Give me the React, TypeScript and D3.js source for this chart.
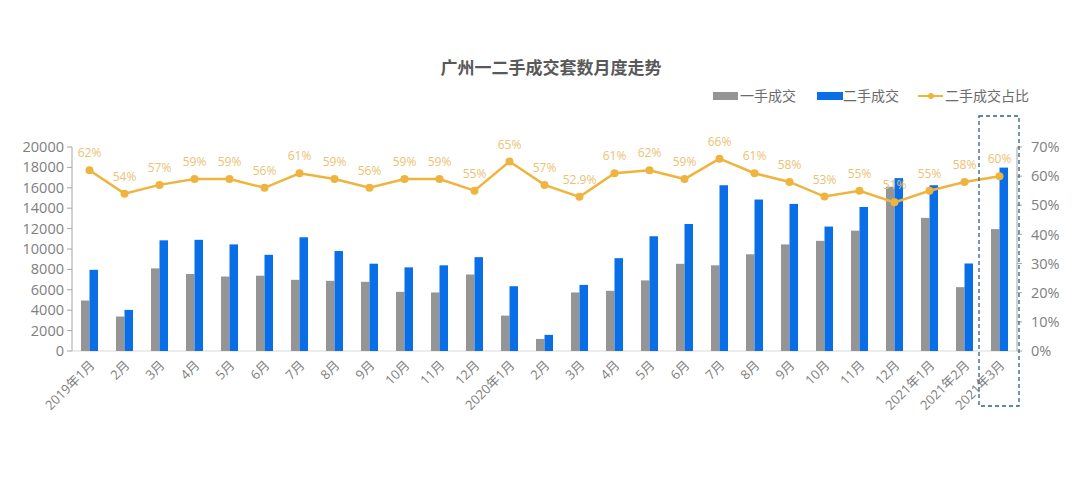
import React from "react";
import * as d3 from "d3";

const categories = [
  "2019年1月", "2月", "3月", "4月", "5月", "6月", "7月", "8月", "9月", "10月", "11月", "12月",
  "2020年1月", "2月", "3月", "4月", "5月", "6月", "7月", "8月", "9月", "10月", "11月", "12月",
  "2021年1月", "2021年2月", "2021年3月",
];
const firstHand = [
  4950, 3380, 8100, 7550, 7300, 7380, 6980, 6880, 6780, 5800, 5740, 7500,
  3470, 1180, 5740, 5900, 6920, 8550, 8400, 9480, 10450, 10800, 11800, 16100,
  13050, 6260, 11950,
];
const secondHand = [
  7960, 4030, 10850, 10900, 10450, 9430, 11150, 9800, 8560, 8200, 8400, 9200,
  6350, 1580, 6480, 9100, 11250, 12450, 16250, 14850, 14420, 12200, 14120, 16950,
  16250, 8580, 17980,
];
const secondShare = [
  62, 54, 57, 59, 59, 56, 61, 59, 56, 59, 59, 55,
  65, 57, 52.9, 61, 62, 59, 66, 61, 58, 53, 55, 51,
  55, 58, 60,
];
const leftTicks = [0, 2000, 4000, 6000, 8000, 10000, 12000, 14000, 16000, 18000, 20000];
const rightTicks = [0, 10, 20, 30, 40, 50, 60, 70];
const seriesNames = ["一手成交", "二手成交", "二手成交占比"];
const title = "广州一二手成交套数月度走势";

const W = 1080;
const H = 487;
const left = 72;
const right = 1017;
const top = 147;
const bottom = 351;

const GRAY = "#959595";
const BLUE = "#0A6FE6";
const GOLD = "#EFB43E";
const GOLD_LABEL = "#EBC273";
const AXIS_TEXT = "#808080";
const FONT = "'Open Sans', 'Noto Sans CJK SC', sans-serif";

export default function App() {
  const x = d3.scaleBand<number>().domain(categories.map((_, i) => i)).range([left, right]).padding(0);
  const yL = d3.scaleLinear().domain([0, 20000]).range([bottom, top]);
  const yR = d3.scaleLinear().domain([0, 70]).range([bottom, top]);
  const bw = 8.5;
  const cx = (i: number) => (x(i) as number) + x.bandwidth() / 2;

  const line = d3
    .line<number>()
    .x((_, i) => cx(i))
    .y((d) => yR(d));

  const fmt = (v: number) => (Number.isInteger(v) ? `${v}%` : `${v.toFixed(1)}%`);

  const last = categories.length - 1;
  const boxX0 = (x(last) as number) - 3;
  const boxX1 = right + 2;

  return (
    <svg
      width={W}
      height={H}
      style={{ position: "absolute", left: 0, top: 0, background: "#fff" }}
      fontFamily={FONT}
    >
      <rect x={0} y={0} width={W} height={H} fill="#fff" />
      {/* title */}
      <text x={551} y={74} textAnchor="middle" fontSize={17} fontWeight="bold" fill="#595959">
        {title}
      </text>

      {/* legend */}
      <g fontSize={14} fill="#6b6b6b">
        <rect x={713} y={92} width={25} height={8} fill={GRAY} />
        <text x={740} y={101}>{seriesNames[0]}</text>
        <rect x={817} y={92} width={26} height={8} fill={BLUE} />
        <text x={843} y={101}>{seriesNames[1]}</text>
        <line x1={918} x2={943} y1={96} y2={96} stroke={GOLD} strokeWidth={2} />
        <circle cx={931} cy={96} r={3} fill={GOLD} />
        <text x={945} y={101}>{seriesNames[2]}</text>
      </g>

      {/* baseline */}
      <line x1={left} x2={right} y1={bottom} y2={bottom} stroke="#d9d9d9" strokeWidth={1} />

      {/* left axis */}
      <line x1={left} x2={left} y1={top} y2={bottom} stroke="#a6a6a6" strokeWidth={1} />
      {leftTicks.map((t) => (
        <g key={"l" + t}>
          <line x1={left - 5} x2={left} y1={yL(t)} y2={yL(t)} stroke="#a6a6a6" />
          <text x={left - 8} y={yL(t)} dy="0.35em" textAnchor="end" fontSize={14.5} fill={AXIS_TEXT}>
            {t}
          </text>
        </g>
      ))}

      {/* right axis */}
      <line x1={right} x2={right} y1={top} y2={bottom} stroke="#a6a6a6" strokeWidth={1} />
      {rightTicks.map((t) => (
        <g key={"r" + t}>
          <line x1={right} x2={right + 5} y1={yR(t)} y2={yR(t)} stroke="#a6a6a6" />
          <text x={right + 14} y={yR(t)} dy="0.35em" textAnchor="start" fontSize={14.5} fill={AXIS_TEXT}>
            {t}%
          </text>
        </g>
      ))}

      {/* bars */}
      {firstHand.map((v, i) => (
        <rect key={"g" + i} x={cx(i) - bw} y={yL(v)} width={bw} height={bottom - yL(v)} fill={GRAY} />
      ))}
      {secondHand.map((v, i) => (
        <rect key={"b" + i} x={cx(i)} y={yL(v)} width={bw} height={bottom - yL(v)} fill={BLUE} />
      ))}

      {/* line */}
      <path d={line(secondShare) || ""} fill="none" stroke={GOLD} strokeWidth={2.5} />
      {secondShare.map((v, i) => (
        <circle key={"c" + i} cx={cx(i)} cy={yR(v)} r={4} fill={GOLD} />
      ))}
      {secondShare.map((v, i) => (
        <text key={"t" + i} x={cx(i)} y={yR(v) - 13} textAnchor="middle" fontSize={12} fill={GOLD_LABEL}>
          {fmt(v)}
        </text>
      ))}

      {/* x labels */}
      {categories.map((c, i) => (
        <text
          key={"x" + i}
          transform={`translate(${cx(i) + 6},${bottom + 15}) rotate(-45)`}
          textAnchor="end"
          fontSize={13}
          fill={AXIS_TEXT}
        >
          {c}
        </text>
      ))}

      {/* highlight box */}
      <rect
        x={boxX0}
        y={116}
        width={boxX1 - boxX0}
        height={406 - 116}
        fill="none"
        stroke="#2F5D8C"
        strokeWidth={1.3}
        strokeDasharray="4 3"
      />
    </svg>
  );
}
